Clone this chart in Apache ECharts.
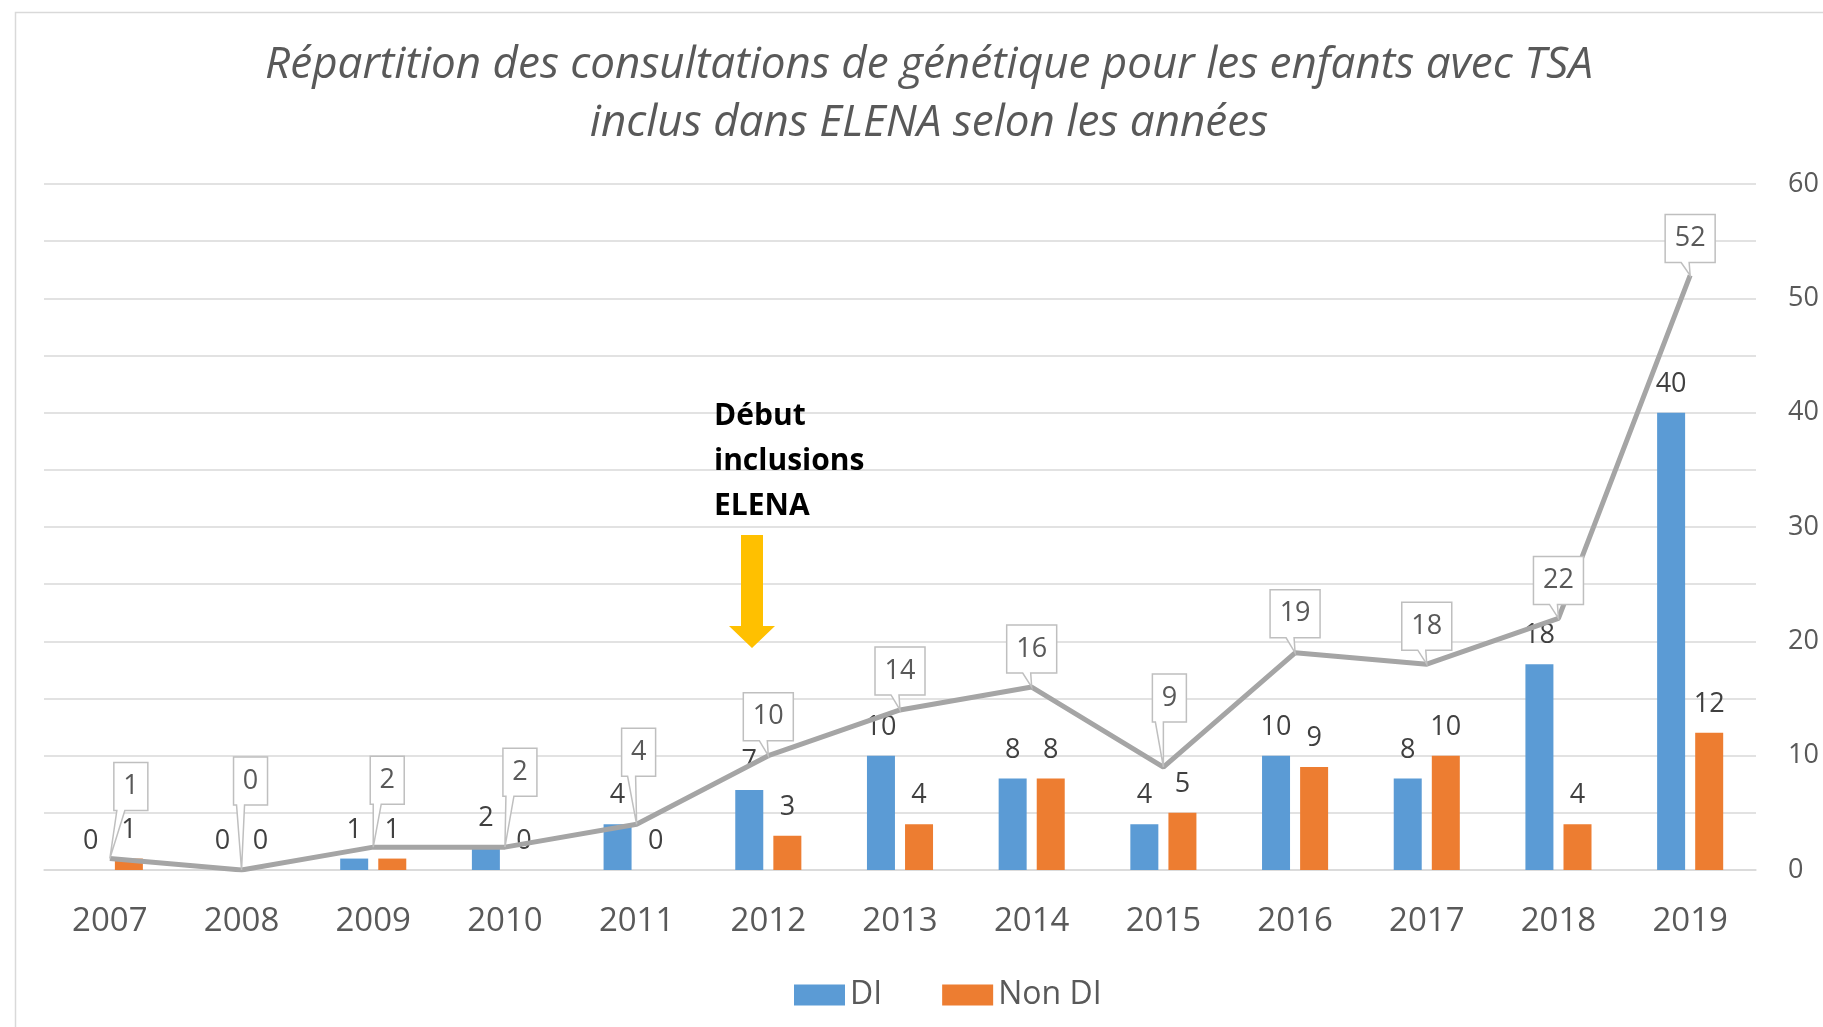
<!DOCTYPE html>
<html>
<head>
<meta charset="utf-8">
<script src="https://cdn.jsdelivr.net/npm/echarts@6/dist/echarts.min.js"></script>
<style>
  html, body { margin: 0; padding: 0; background: #fff; }
  #chart { width: 1823px; height: 1027px; }
</style>
</head>
<body>
<div id="chart"></div>
<script>
// données
const years = ['2007', '2008', '2009', '2010', '2011', '2012', '2013', '2014', '2015', '2016', '2017', '2018', '2019']
const di = [0, 0, 1, 2, 4, 7, 10, 8, 4, 10, 8, 18, 40]
const nonDi = [1, 0, 1, 0, 0, 3, 4, 8, 5, 9, 10, 4, 12]
const totals = [1, 0, 2, 2, 4, 10, 14, 16, 9, 19, 18, 22, 52]
const yTicks = [0, 10, 20, 30, 40, 50, 60]

// placement des bulles (décalage horizontal / écart vertical en px)
const calloutDx = [21, 9, 14, 15, 2, 0, 0, 0, 6, 0, 0, 0, 0]
const calloutGap = [48, 65, 43, 51, 48, 15, 15, 14, 45, 15, 14, 14, 13]

const FONT = "'Open Sans', 'Noto Sans', sans-serif"
const chart = echarts.init(document.getElementById('chart'))

const barLabel = {
  show: true,
  position: 'top',
  distance: 15,
  color: '#404040',
  fontSize: 27,
  fontFamily: FONT
}

// bulle de légende (rectangle + pointe)
function renderCallout(params, api) {
  const idx = params.dataIndex
  const pt = api.coord([api.value(0), api.value(1)])
  const txt = String(totals[idx])
  const w = 18 + 16 * txt.length
  const h = 48
  const cx = pt[0] + calloutDx[idx]
  const bottom = pt[1] - calloutGap[idx]
  const top = bottom - h
  const left = cx - w / 2
  const right = cx + w / 2
  let baseL = Math.min(Math.max(pt[0] - 9, left + 3), right - 12)
  const baseR = baseL + 8
  return {
    type: 'group',
    children: [
      {
        type: 'polygon',
        shape: {
          points: [
            [left, top], [right, top], [right, bottom], [baseR, bottom],
            [pt[0], pt[1]], [baseL, bottom], [left, bottom]
          ]
        },
        style: { fill: '#fff', stroke: '#bfbfbf', lineWidth: 1.5 }
      },
      {
        type: 'text',
        style: {
          text: txt,
          x: cx,
          y: top + h / 2,
          align: 'center',
          verticalAlign: 'middle',
          fill: '#595959',
          font: '27px ' + FONT
        }
      }
    ]
  }
}

const option = {
  backgroundColor: '#fff',
  animation: false,
  title: {
    text: 'Répartition des consultations de génétique pour les enfants avec TSA\ninclus dans ELENA selon les années',
    left: 924,
    top: 31,
    textAlign: 'center',
    textStyle: {
      color: '#595959',
      fontStyle: 'italic',
      fontWeight: 'normal',
      fontSize: 44,
      lineHeight: 58,
      fontFamily: FONT
    }
  },
  legend: {
    data: ['DI', 'Non DI'],
    bottom: 11,
    left: 789,
    icon: 'rect',
    itemWidth: 51,
    itemHeight: 21,
    itemGap: 60,
    textStyle: { color: '#595959', fontSize: 32, fontFamily: FONT }
  },
  grid: { left: 44, right: 67, top: 184, bottom: 157 },
  xAxis: {
    type: 'category',
    data: years,
    axisTick: { show: false },
    axisLine: { lineStyle: { color: '#d9d9d9', width: 1.5 } },
    axisLabel: { color: '#595959', fontSize: 33, fontFamily: FONT, margin: 35 }
  },
  yAxis: [
    {
      type: 'value',
      position: 'right',
      min: 0,
      max: 60,
      interval: 10,
      axisLine: { show: false },
      axisTick: { show: false },
      splitLine: { show: false },
      axisLabel: {
        color: '#595959',
        fontSize: 27,
        fontFamily: FONT,
        margin: 32,
        align: 'left',
        formatter: v => (yTicks.includes(v) ? String(v) : '')
      }
    },
    {
      type: 'value',
      position: 'left',
      min: 0,
      max: 60,
      interval: 5,
      axisLine: { show: false },
      axisTick: { show: false },
      axisLabel: { show: false },
      splitLine: { lineStyle: { color: '#d9d9d9', width: 1.5 } }
    }
  ],
  graphic: [
    {
      type: 'rect',
      left: 13,
      top: 10,
      z: -1,
      shape: { width: 1900, height: 1100 },
      style: { fill: 'none', stroke: '#d9d9d9', lineWidth: 1.5 },
      silent: true
    },
    {
      type: 'text',
      left: 714,
      top: 394,
      z: 10,
      style: {
        text: 'Début\ninclusions\nELENA',
        fill: '#000',
        font: 'bold 30px ' + FONT,
        lineHeight: 45
      }
    },
    {
      type: 'polygon',
      z: 10,
      shape: {
        points: [[741, 535], [763, 535], [763, 626], [775, 626], [752, 648], [729, 626], [741, 626]]
      },
      style: { fill: '#ffc000' }
    }
  ],
  series: [
    {
      name: 'DI',
      type: 'bar',
      data: di,
      barWidth: 28,
      barGap: '36%',
      itemStyle: { color: '#5b9bd5' },
      label: barLabel
    },
    {
      name: 'Non DI',
      type: 'bar',
      data: nonDi,
      barWidth: 28,
      itemStyle: { color: '#ed7d31' },
      label: barLabel
    },
    {
      name: 'Total',
      type: 'line',
      data: totals,
      showSymbol: false,
      symbol: 'none',
      z: 3,
      lineStyle: { color: '#a5a5a5', width: 5 }
    },
    {
      name: 'Bulles',
      type: 'custom',
      data: totals.map((t, i) => [i, t]),
      clip: false,
      z: 5,
      renderItem: renderCallout
    }
  ]
}

chart.setOption(option)
window.addEventListener('resize', () => chart.resize())
</script>
</body>
</html>
